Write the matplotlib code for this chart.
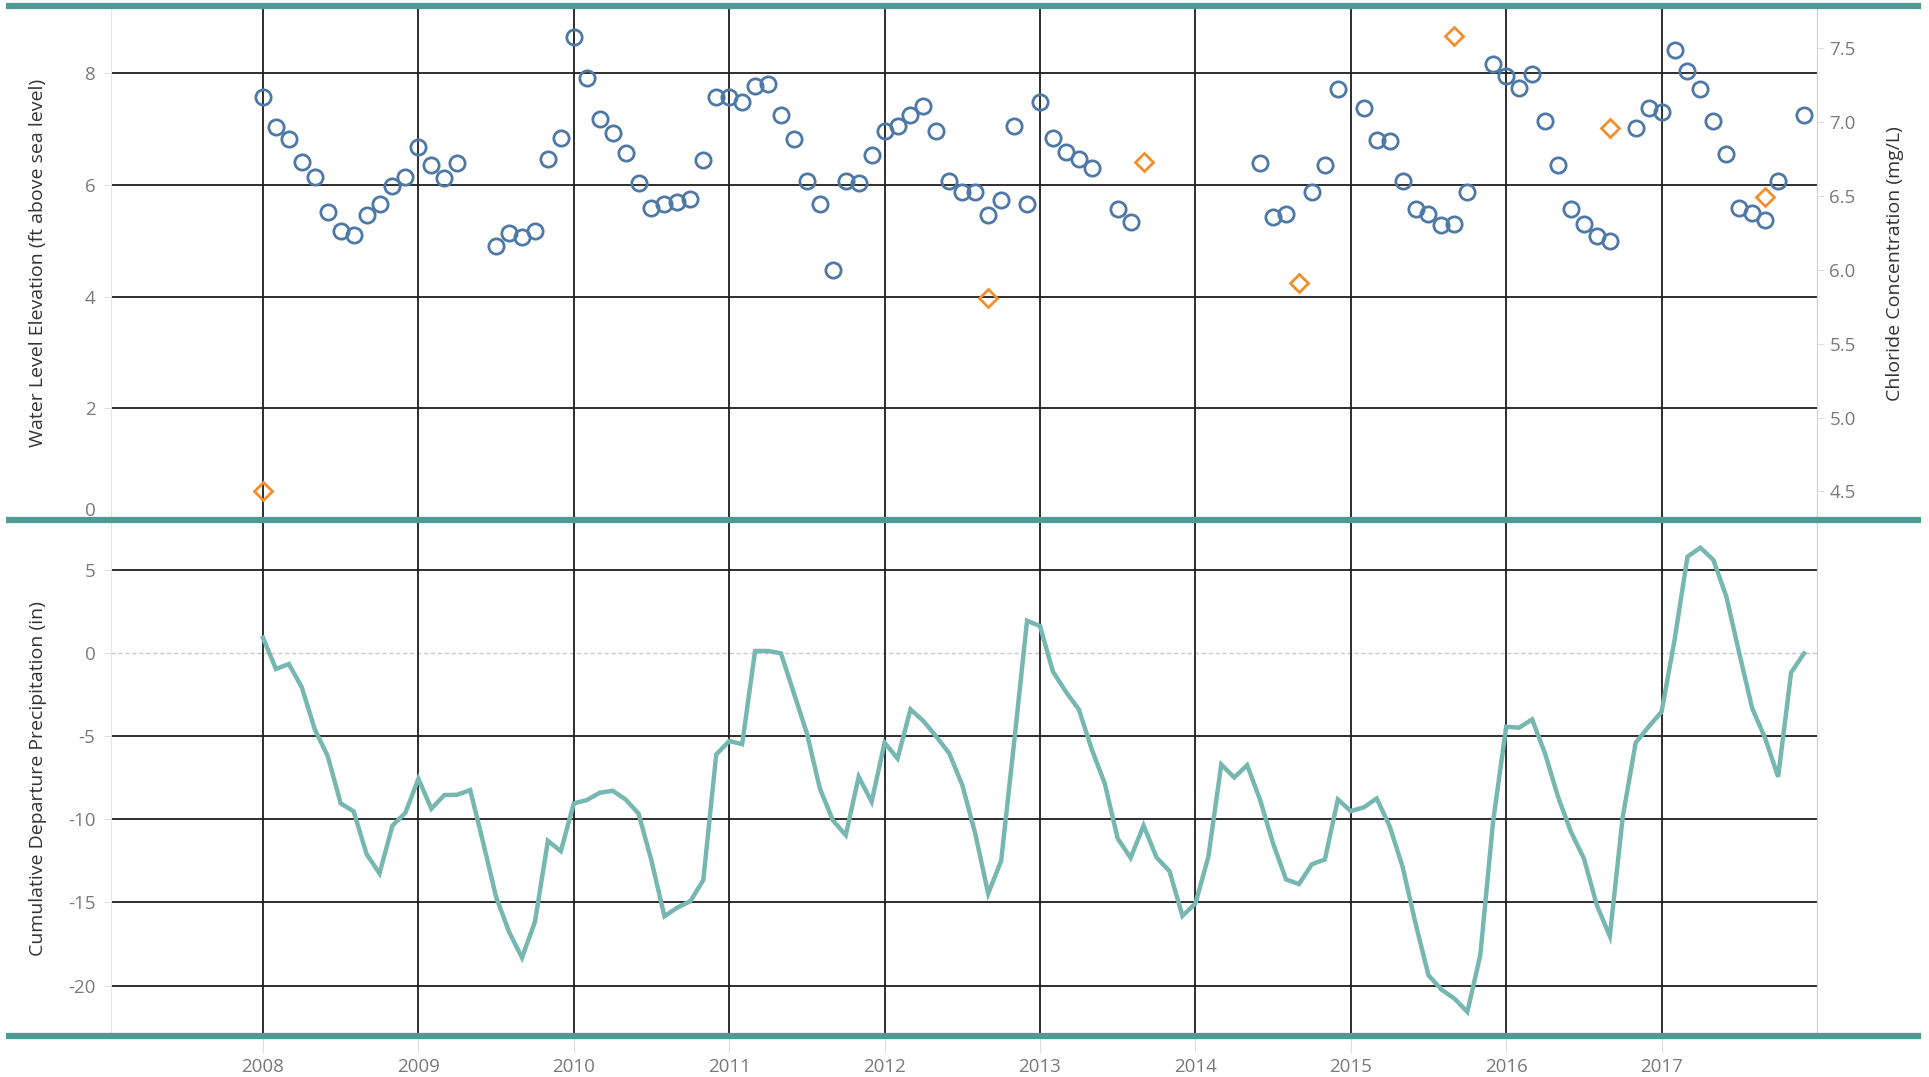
import matplotlib
matplotlib.use("Agg")
import matplotlib.pyplot as plt
from matplotlib.lines import Line2D

plt.rcParams['font.family'] = ['Open Sans', 'DejaVu Sans']
plt.rcParams['axes.unicode_minus'] = False

# cumulative departure precipitation (in), monthly Jan 2008 - Dec 2017
precip_start = 2008
precip_cum = [
    0.91, -0.97, -0.67, -2.08, -4.60, -6.21, -9.05, -9.53, -12.10, -13.26, -10.38, -9.61,
    -7.57, -9.37, -8.55, -8.53, -8.25, -11.4, -14.67, -16.77, -18.32, -16.17, -11.30, -11.92,
    -9.05, -8.85, -8.41, -8.29, -8.81, -9.66, -12.5, -15.83, -15.31, -14.93, -13.66, -6.11,
    -5.30, -5.49, 0.11, 0.11, -0.03, -2.44, -4.84, -8.15, -10.06, -10.96, -7.45, -8.95,
    -5.40, -6.35, -3.40, -4.1, -5.04, -6.05, -7.95, -10.86, -14.47, -12.5, -5.4, 1.93,
    1.61, -1.13, -2.34, -3.40, -5.81, -7.85, -11.16, -12.32, -10.38, -12.30, -13.12, -15.81,
    -15.07, -12.26, -6.71, -7.49, -6.75, -8.85, -11.46, -13.62, -13.9, -12.70, -12.42, -8.81,
    -9.51, -9.29, -8.75, -10.42, -12.86, -16.27, -19.38, -20.24, -20.78, -21.58, -18.17, -10.06,
    -4.44, -4.50, -4.0, -6.05, -8.65, -10.76, -12.36, -15.17, -17.03, -9.86, -5.40, -4.44,
    -3.54, 0.77, 5.78, 6.32, 5.58, 3.38, -0.03, -3.34, -5.14, -7.45, -1.19, -0.03,
]

# water level elevation (ft above sea level)
wl_dates = [
    "2008-01", "2008-02", "2008-03", "2008-04", "2008-05", "2008-06", "2008-07", "2008-08", "2008-09", "2008-10", "2008-11", "2008-12",
    "2009-01", "2009-02", "2009-03", "2009-04", "2009-07", "2009-08", "2009-09", "2009-10", "2009-11", "2009-12",
    "2010-01", "2010-02", "2010-03", "2010-04", "2010-05", "2010-06", "2010-07", "2010-08", "2010-09", "2010-10", "2010-11", "2010-12",
    "2011-01", "2011-02", "2011-03", "2011-04", "2011-05", "2011-06", "2011-07", "2011-08", "2011-09", "2011-10", "2011-11", "2011-12",
    "2012-01", "2012-02", "2012-03", "2012-04", "2012-05", "2012-06", "2012-07", "2012-08", "2012-09", "2012-10", "2012-11", "2012-12",
    "2013-01", "2013-02", "2013-03", "2013-04", "2013-05", "2013-07", "2013-08",
    "2014-06", "2014-07", "2014-08", "2014-10", "2014-11", "2014-12",
    "2015-02", "2015-03", "2015-04", "2015-05", "2015-06", "2015-07", "2015-08", "2015-09", "2015-10", "2015-12",
    "2016-01", "2016-02", "2016-03", "2016-04", "2016-05", "2016-06", "2016-07", "2016-08", "2016-09", "2016-11", "2016-12",
    "2017-01", "2017-02", "2017-03", "2017-04", "2017-05", "2017-06", "2017-07", "2017-08", "2017-09", "2017-10", "2017-12",
]
wl_values = [
    7.56, 7.02, 6.81, 6.41, 6.14, 5.51, 5.17, 5.10, 5.45, 5.65, 5.97, 6.14,
    6.67, 6.35, 6.11, 6.38, 4.90, 5.14, 5.07, 5.17, 6.46, 6.84,
    8.63, 7.91, 7.18, 6.92, 6.57, 6.03, 5.59, 5.65, 5.68, 5.74, 6.43, 7.56,
    7.56, 7.48, 7.76, 7.80, 7.24, 6.81, 6.06, 5.65, 4.47, 6.06, 6.03, 6.52,
    6.95, 7.04, 7.24, 7.41, 6.95, 6.06, 5.86, 5.86, 5.45, 5.73, 7.04, 5.66,
    7.48, 6.84, 6.58, 6.46, 6.29, 5.57, 5.33,
    6.38, 5.42, 5.48, 5.86, 6.35, 7.71,
    7.36, 6.80, 6.78, 6.06, 5.57, 5.48, 5.27, 5.30, 5.86, 8.15,
    7.94, 7.73, 7.97, 7.13, 6.35, 5.57, 5.30, 5.08, 4.99, 7.01, 7.36,
    7.30, 8.40, 8.02, 7.70, 7.13, 6.55, 5.59, 5.50, 5.36, 6.06, 7.24,
]

# chloride concentration (mg/L)
cl_dates = ["2008-01", "2012-09", "2013-09", "2014-09", "2015-09", "2016-09", "2017-09"]
cl_values = [4.50, 5.81, 6.73, 5.91, 7.58, 6.96, 6.49]

years = list(range(2008, 2018))


def dec_year(s):
    y, m = s.split("-")
    return int(y) + (int(m) - 1) / 12.0


precip_x = [precip_start + i / 12.0 for i in range(len(precip_cum))]
wl_x = [dec_year(d) for d in wl_dates]
cl_x = [dec_year(d) for d in cl_dates]

W, H = 1929, 1077
fig = plt.figure(figsize=(W / 100, H / 100), dpi=100)

left, right = 110.7 / W, 1817 / W
y_top, y_mid, y_bot = 1 - 6 / H, 1 - 520.4 / H, 1 - 1036 / H
axw = W * (right - left)

ax1 = fig.add_axes([left, y_mid, right - left, y_top - y_mid])
ax2 = fig.add_axes([left, y_bot, right - left, y_mid - y_bot], sharex=ax1)
ax1r = ax1.twinx()

grid_c = "#1e1e1e"
tick_c = "#7a7a7a"
lab_c = "#333333"
teal_line = "#4e9a94"

# top: water level + chloride
ax1.set_ylim(0, 9.19)
ax1.set_yticks([0, 2, 4, 6, 8])
for v in [2, 4, 6, 8]:
    ax1.axhline(v, color=grid_c, lw=1.3, zorder=1)
ax1.plot(wl_x, wl_values, 'o', ls='none', ms=11, mfc='none', mec='#4e79a7', mew=2.0, zorder=3)
ax1.set_ylabel("Water Level Elevation (ft above sea level)", fontsize=14, color=lab_c)

ax1r.set_ylim(4.304, 7.784)
ax1r.set_yticks([4.5, 5.0, 5.5, 6.0, 6.5, 7.0, 7.5])
ax1r.set_yticklabels(["%.1f" % v for v in [4.5, 5.0, 5.5, 6.0, 6.5, 7.0, 7.5]])
ax1r.plot(cl_x, cl_values, 'D', ls='none', ms=9, mfc='none', mec='#f28e2b', mew=2.0, zorder=4)
ax1r.set_ylabel("Chloride Concentration (mg/L)", fontsize=14, color=lab_c)

# bottom: cumulative departure
ax2.set_ylim(-23.03, 7.96)
ax2.set_yticks([-20, -15, -10, -5, 0, 5])
for v in [-20, -15, -10, -5, 5]:
    ax2.axhline(v, color=grid_c, lw=1.3, zorder=1)
ax2.axhline(0, color="#c8c8c8", lw=1.0, ls=(0, (3, 2)), zorder=1)
ax2.plot(precip_x, precip_cum, color='#76b7b2', lw=3.2, solid_joinstyle='miter', zorder=3)
ax2.set_ylabel("Cumulative Departure Precipitation (in)", fontsize=14, color=lab_c)

ax2.set_xlim(2007.02, 2018.0)
ax2.set_xticks(years)
ax2.set_xticklabels([str(y) for y in years])
for ax in (ax1, ax2):
    for y in years:
        ax.axvline(y, color=grid_c, lw=1.3, zorder=1)

for ax in (ax1, ax2, ax1r):
    for s in ax.spines.values():
        s.set_visible(False)
    ax.tick_params(colors="#dddddd", labelcolor=tick_c, labelsize=13.5, length=5, width=0.8)
    ax.set_facecolor('none')

ax1.tick_params(axis='x', bottom=False, labelbottom=False)
ax1r.tick_params(axis='x', bottom=False, labelbottom=False)
ax2.tick_params(axis='x', length=12, pad=3.5)
ax1.tick_params(axis='y', pad=6)
ax2.tick_params(axis='y', pad=6)
ax1r.tick_params(axis='y', pad=4)
ax1.get_yticklabels()[0].set_va('bottom')

# light axis rules
ax1.spines['left'].set_visible(True)
ax1.spines['left'].set_color('#e6e6e6')
ax2.spines['left'].set_visible(True)
ax2.spines['left'].set_color('#e6e6e6')
ax1r.spines['right'].set_visible(True)
ax1r.spines['right'].set_color('#cfcfcf')
ax2.spines['right'].set_visible(True)
ax2.spines['right'].set_color('#cfcfcf')

# teal pane borders
for yy in (y_top, y_mid, y_bot):
    fig.add_artist(Line2D([6 / W, 1921 / W], [yy, yy], transform=fig.transFigure,
                          color=teal_line, lw=4.5, solid_capstyle='butt', zorder=10))

ax1.yaxis.set_label_coords((47 - 110.7) / axw, 0.5)
ax2.yaxis.set_label_coords((47 - 110.7) / axw, 0.5)
ax1r.yaxis.set_label_coords((1886 - 110.7) / axw, 0.5)

fig.savefig("out.png", dpi=100)
